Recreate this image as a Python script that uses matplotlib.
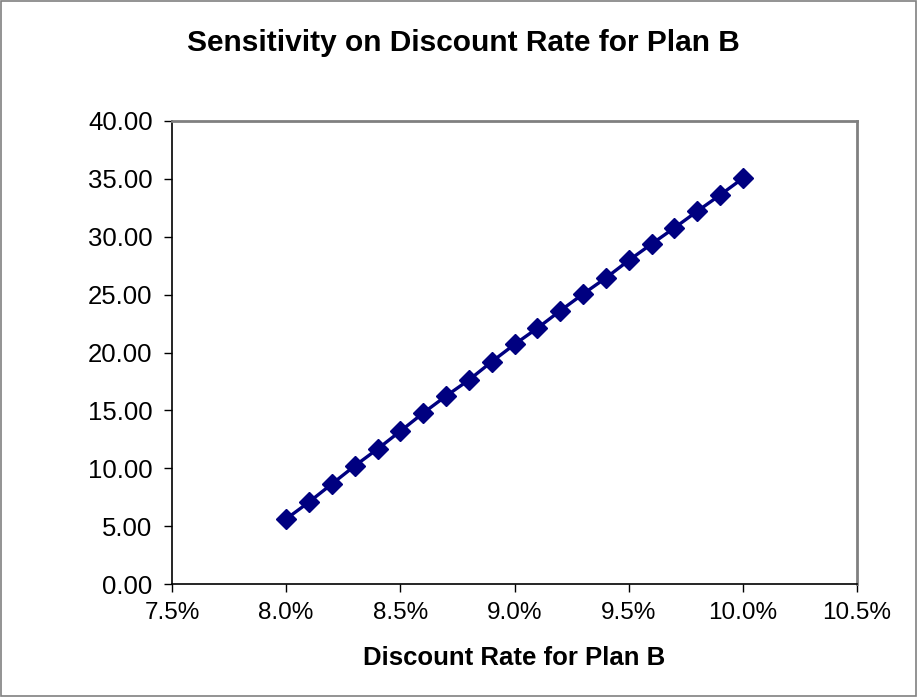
import matplotlib
matplotlib.use("Agg")
import matplotlib.pyplot as plt
from matplotlib.ticker import FuncFormatter, MultipleLocator
from matplotlib.patches import Rectangle

plt.rcParams['font.family'] = ['Liberation Sans', 'DejaVu Sans']

rates = [0.080, 0.081, 0.082, 0.083, 0.084, 0.085, 0.086, 0.087, 0.088, 0.089, 0.090,
         0.091, 0.092, 0.093, 0.094, 0.095, 0.096, 0.097, 0.098, 0.099, 0.100]
values = [5.62, 7.08, 8.64, 10.2, 11.66, 13.2, 14.77, 16.24, 17.62, 19.2, 20.7,
          22.1, 23.6, 25.05, 26.44, 27.95, 29.37, 30.76, 32.2, 33.6, 35.05]

title = "Sensitivity on Discount Rate for Plan B"
xlabel = "Discount Rate for Plan B"

fig = plt.figure(figsize=(9.18, 6.97), dpi=100)
fig.patches.append(Rectangle((0.001, 0.001), 0.997, 0.997, transform=fig.transFigure,
                             fill=False, edgecolor='#808080', linewidth=1.2))
ax = fig.add_axes([172/918, 1-584/697, (857-172)/918, (584-121)/697])

ax.plot(rates, values, color='#000080', linewidth=2.4, marker='D', markersize=10.5,
        markerfacecolor='#000080', markeredgecolor='#000080', markeredgewidth=1,
        solid_joinstyle='round')

ax.set_xlim(0.075, 0.105)
ax.set_ylim(0, 40)
ax.xaxis.set_major_locator(MultipleLocator(0.005))
ax.yaxis.set_major_locator(MultipleLocator(5))
ax.xaxis.set_major_formatter(FuncFormatter(lambda v, p: f"{v*100:.1f}%"))
ax.yaxis.set_major_formatter(FuncFormatter(lambda v, p: f"{v:.2f}"))
ax.tick_params(axis='both', direction='out', length=6, width=1, colors='black')
ax.tick_params(axis='x', labelsize=17.5, pad=7)
ax.tick_params(axis='y', labelsize=18.5, pad=8)

for s in ['top', 'right']:
    ax.spines[s].set_color('#808080')
    ax.spines[s].set_linewidth(2)
for s in ['left', 'bottom']:
    ax.spines[s].set_color('black')
    ax.spines[s].set_linewidth(1.2)

ax.set_xlabel(xlabel, fontsize=18.5, fontweight='bold', labelpad=16)
fig.text(463/918, 1-43/697, title, ha='center', va='center', fontsize=21.5, fontweight='bold')

fig.savefig("out.png", dpi=100)
